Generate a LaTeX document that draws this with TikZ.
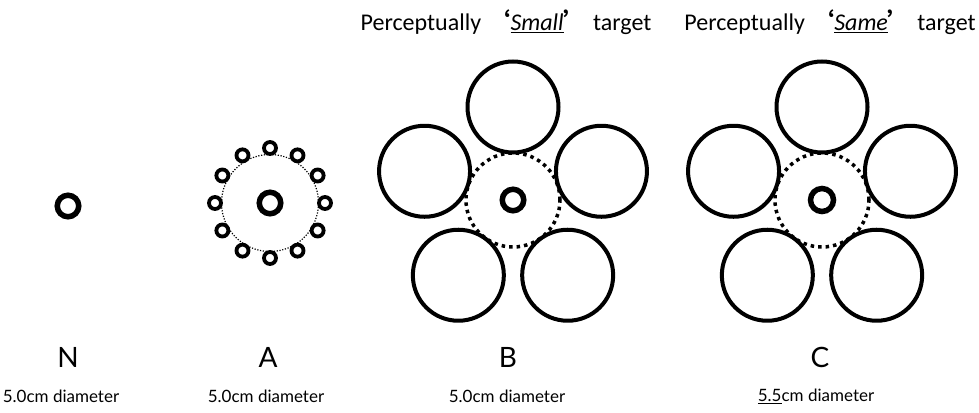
\documentclass[tikz,border=0pt]{standalone}
\usepackage{fontspec}
\usetikzlibrary{calc}
\setmainfont{Carlito}
\newfontfamily\cjk{Noto Sans CJK SC}
\newfontfamily\labfont{Lato}
\begin{document}
\begin{tikzpicture}[x=1pt,y=-1pt,
  target/.style={circle,draw,line width=5.5pt,inner sep=0pt,minimum size=21.5pt},
  bigtarget/.style={circle,draw,line width=5.5pt,inner sep=0pt,minimum size=23pt},
  flank/.style={circle,draw,line width=4pt,inner sep=0pt,minimum size=91pt},
  smallflank/.style={circle,draw,line width=3.8pt,inner sep=0pt,minimum size=12pt},
  ring/.style={circle,draw,line width=3.5pt,dash pattern=on 3.5pt off 4pt,inner sep=0pt,minimum size=94pt},
  thinring/.style={circle,draw,line width=1.2pt,dash pattern=on 1.2pt off 1.6pt,inner sep=0pt,minimum size=97pt},
  letter/.style={font=\labfont\fontsize{28}{30}\selectfont,inner sep=0pt},
  diam/.style={font=\labfont\fontsize{17}{20}\selectfont,inner sep=0pt},
  title/.style={font=\fontsize{24}{28}\selectfont,inner sep=0pt,anchor=base}
]
\path[use as bounding box] (0,0) rectangle (979,412);

% titles
\node[title] (tt1) at (506,31) {Perceptually \makebox[1em][r]{\cjk\bfseries ‘}\underline{\textit{Small}}\makebox[1em][l]{\cjk\bfseries ’} target};
\node[title] (tt2) at (830,31) {Perceptually \makebox[1em][r]{\cjk\bfseries ‘}\underline{\textit{Same}}\makebox[1em][l]{\cjk\bfseries ’} target};

% N
\node[target] (tn) at (68,206) {};

% A
\node[thinring] (ra) at (270,203) {};
\node[target] (ta) at (270,203) {};
\foreach \k in {0,...,11}{
  \node[smallflank] (sa\k) at ($(270,203)+({90+30*\k}:55)$) {};
}

% B
\node[ring] (rb) at (513,200) {};
\node[target] (tb) at (513,200) {};
\foreach \k in {0,...,4}{
  \node[flank] (fb\k) at ($(513,200)+({-90+72*\k}:93)$) {};
}

% C
\node[ring] (rc) at (822,200) {};
\node[bigtarget] (tc) at (822,200) {};
\foreach \k in {0,...,4}{
  \node[flank] (fc\k) at ($(822,200)+({-90+72*\k}:93)$) {};
}

% labels
\node[letter] (ln) at (68,357) {N};
\node[letter] (la) at (268,357) {A};
\node[letter] (lb) at (508,357) {B};
\node[letter] (lc) at (820,357) {C};
\node[diam] (dn) at (61,396) {5.0cm diameter};
\node[diam] (da) at (266,396) {5.0cm diameter};
\node[diam] (db) at (507,396) {5.0cm diameter};
\node[diam] (dc) at (816,396) {\underline{5.5}cm diameter};
\end{tikzpicture}
\end{document}
